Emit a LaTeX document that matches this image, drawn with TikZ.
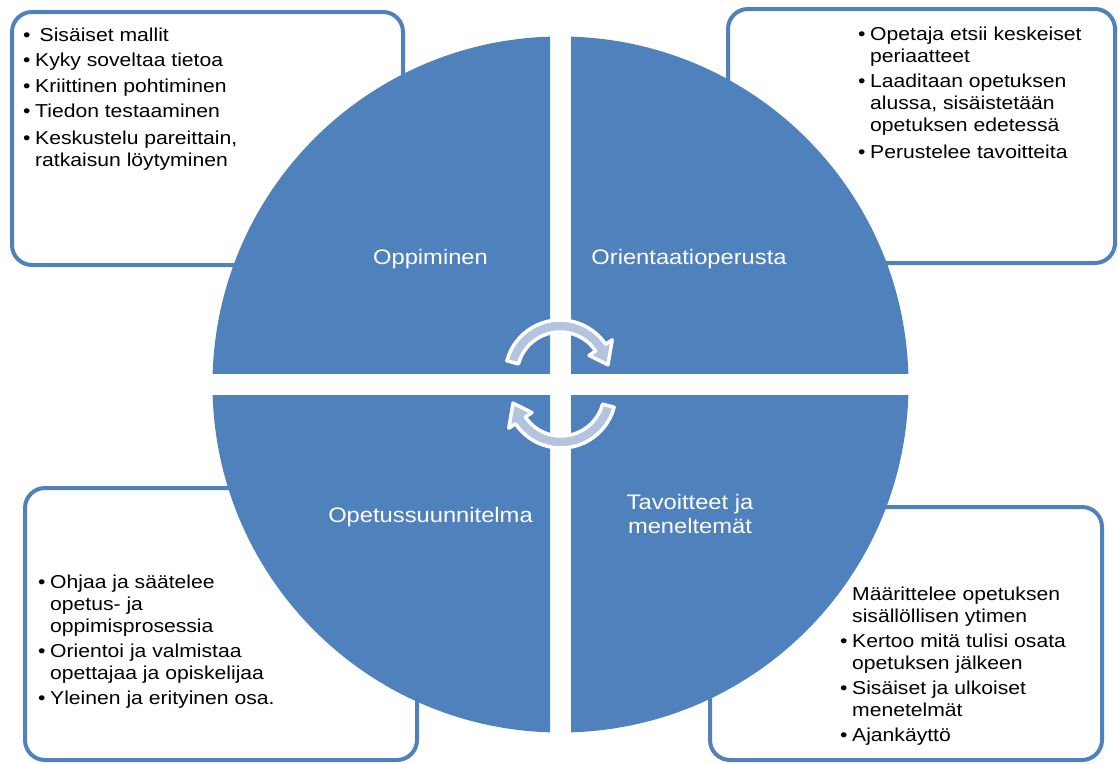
\documentclass[tikz,border=0pt]{standalone}
\usepackage{fontspec}
\setmainfont{Liberation Sans}[FakeStretch=1.13]
\definecolor{accblue}{RGB}{79,129,189}
\definecolor{arrowfill}{RGB}{180,196,222}
\newcommand\bul{\makebox[12pt][l]{•}}
\begin{document}
\begin{tikzpicture}[x=1pt,y=-1pt,
  infobox/.style={draw=accblue, line width=4pt, fill=white, rounded corners=20pt},
  quad/.style={fill=accblue},
  cyclearrow/.style={fill=arrowfill, draw=white, line width=3.5pt, line join=round},
  qlabel/.style={text=white, inner sep=0pt, anchor=base, font=\fontsize{21}{24}\selectfont},
  boxtext/.style={inner sep=0pt, anchor=base west, font=\fontsize{18.7}{22}\selectfont}
]
\useasboundingbox (0,0) rectangle (1118,763);
\fill[white] (0,0) rectangle (1118,763);

% info boxes (behind the circle)
\draw[infobox] (12,12) rectangle (403,265);
\draw[infobox] (728,9) rectangle (1115,263);
\draw[infobox] (25,488) rectangle (417,760);
\draw[infobox] (710,507) rectangle (1102,760);

% quadrants
\coordinate (ctr) at (560.5,384.5);
\begin{scope}
  \clip (0,0) rectangle (550,373);
  \fill[quad] (ctr) circle[radius=348];
\end{scope}
\begin{scope}
  \clip (571,0) rectangle (1118,373);
  \fill[quad] (ctr) circle[radius=348];
\end{scope}
\begin{scope}
  \clip (0,395) rectangle (550,763);
  \fill[quad] (ctr) circle[radius=348];
\end{scope}
\begin{scope}
  \clip (571,395) rectangle (1118,763);
  \fill[quad] (ctr) circle[radius=348];
\end{scope}

% cycle arrows
\begin{scope}[shift={(560,375)}]
  \path[cyclearrow] (195:55) arc[start angle=195, end angle=326, radius=55]
    -- (326:63) -- (348:49) -- (326:35) -- (326:43)
    arc[start angle=326, end angle=195, radius=43] -- cycle;
\end{scope}
\begin{scope}[shift={(561,393)}, rotate=180]
  \path[cyclearrow] (195:55) arc[start angle=195, end angle=326, radius=55]
    -- (326:63) -- (348:49) -- (326:35) -- (326:43)
    arc[start angle=326, end angle=195, radius=43] -- cycle;
\end{scope}

% quadrant labels
\node[qlabel] (oppiminen) at (430.5,264) {Oppiminen};
\node[qlabel] (orientaatio) at (689,264) {Orientaatioperusta};
\node[qlabel] (opetussuunn) at (430.5,522) {Opetussuunnitelma};
\node[qlabel] (tavoitteet) at (690,509) {\begin{tabular}[t]{@{}c@{}}Tavoitteet ja\\meneltemät\end{tabular}};

% box texts
\node[boxtext] (tltext) at (23,41) {\begin{tabular}[t]{@{}l@{}l@{}}
\bul & \hspace{4.5pt}Sisäiset mallit\\[3.5pt]
\bul & Kyky soveltaa tietoa\\[3.5pt]
\bul & Kriittinen pohtiminen\\[3.5pt]
\bul & Tiedon testaaminen\\[4.5pt]
\bul & Keskustelu pareittain,\\
     & ratkaisun löytyminen
\end{tabular}};

\node[boxtext] (trtext) at (858,40) {\begin{tabular}[t]{@{}l@{}l@{}}
\bul & Opetaja etsii keskeiset\\
     & periaatteet\\[3.5pt]
\bul & Laaditaan opetuksen\\
     & alussa, sisäistetään\\
     & opetuksen edetessä\\[4.5pt]
\bul & Perustelee tavoitteita
\end{tabular}};

\node[boxtext] (bltext) at (38,588) {\begin{tabular}[t]{@{}l@{}l@{}}
\bul & Ohjaa ja säätelee\\
     & opetus- ja\\
     & oppimisprosessia\\[3.5pt]
\bul & Orientoi ja valmistaa\\
     & opettajaa ja opiskelijaa\\[3pt]
\bul & Yleinen ja erityinen osa.
\end{tabular}};

\node[boxtext] (brtext) at (840,600) {\begin{tabular}[t]{@{}l@{}l@{}}
\hspace{12pt} & Määrittelee opetuksen\\
     & sisällöllisen ytimen\\[3.5pt]
\bul & Kertoo mitä tulisi osata\\
     & opetuksen jälkeen\\[3pt]
\bul & Sisäiset ja ulkoiset\\
     & menetelmät\\[3pt]
\bul & Ajankäyttö
\end{tabular}};
\end{tikzpicture}
\end{document}
